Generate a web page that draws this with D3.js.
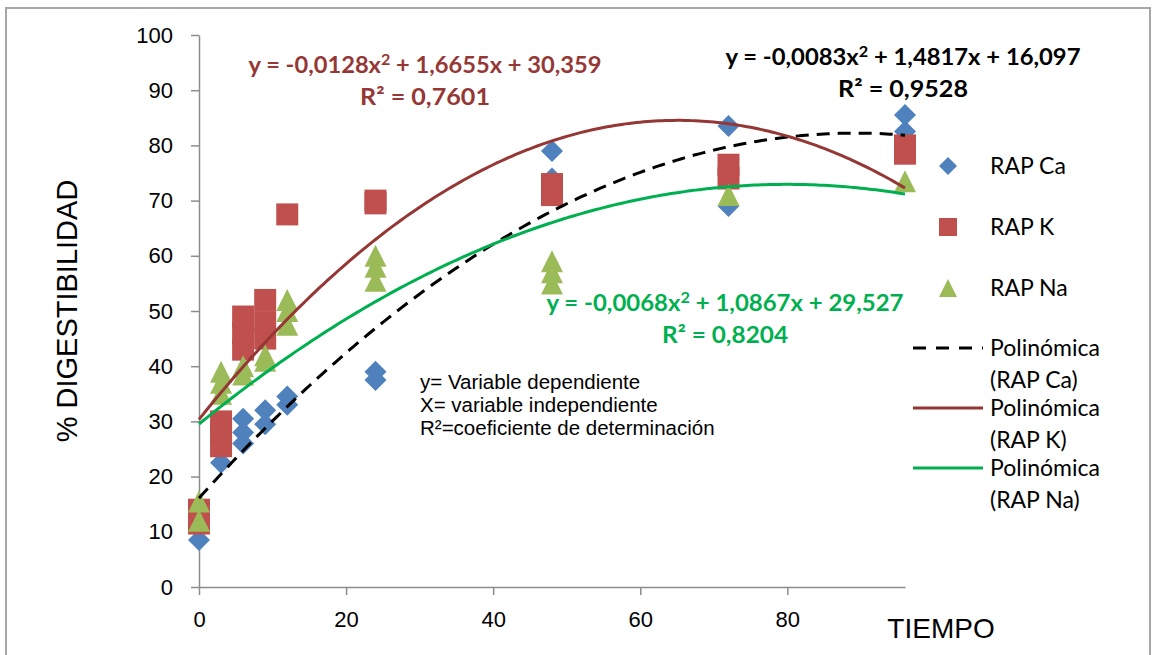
<!DOCTYPE html>
<html>
<head>
<meta charset="utf-8">
<script src="https://cdn.jsdelivr.net/npm/d3@7"></script>
<style>
  body { margin: 0; background: #fff; }
  svg { display: block; }
</style>
</head>
<body>
<div id="chart"></div>
<script>
// Time points (x) and digestibility readings (y) per series
var caPoints = [
  [0, 8.5], [0, 13], [3, 22.5], [3, 27], [6, 26], [6, 28], [6, 30.5],
  [9, 29.5], [9, 32], [12, 33], [12, 34.5], [24, 37.5], [24, 39],
  [48, 74], [48, 79], [72, 69], [72, 76], [72, 83.5], [96, 82.5], [96, 85.5]
]
var kPoints = [
  [0, 11.5], [0, 14], [3, 25.5], [3, 28], [3, 30], [6, 43], [6, 46], [6, 49],
  [9, 45], [9, 48], [9, 52], [12, 67.5], [24, 69.5], [24, 70],
  [48, 71], [48, 73], [72, 74], [72, 76.5], [96, 78.5], [96, 80]
]
var naPoints = [
  [0, 12], [0, 15.5], [3, 35], [3, 37], [3, 39], [6, 38.5], [6, 40],
  [9, 41], [9, 42], [12, 47.5], [12, 50], [12, 52], [24, 55.5], [24, 58], [24, 60],
  [48, 55], [48, 57], [48, 59], [72, 71], [96, 73.5]
]

// Trendline coefficients [a, b, c] for y = a x^2 + b x + c
var caFit = [-0.0083, 1.4817, 16.097]
var kFit = [-0.0128, 1.6655, 30.359]
var naFit = [-0.0068, 1.0867, 29.527]

var xTicks = [0, 20, 40, 60, 80]
var yTicks = [0, 10, 20, 30, 40, 50, 60, 70, 80, 90, 100]

var width = 1152, height = 655

var svg = d3.select("#chart")
  .append("svg")
  .attr("width", width)
  .attr("height", height)

// outer frame
svg.append("rect")
  .attr("x", 6).attr("y", 8)
  .attr("width", 1144).attr("height", 660)
  .attr("fill", "none")
  .attr("stroke", "#a6a6a6")
  .attr("stroke-width", 2)

var x = d3.scaleLinear().domain([0, 96]).range([199, 905])
var y = d3.scaleLinear().domain([0, 100]).range([587, 35])

// ---- axes ----
var axisColor = "#8c8c8c"

var yAxis = svg.append("g")
  .attr("transform", "translate(" + x(0) + ",0)")
  .call(d3.axisLeft(y).tickValues(yTicks).tickSize(8).tickPadding(18).tickSizeOuter(0))
yAxis.select(".domain").attr("stroke", axisColor).attr("stroke-width", 1.5)
yAxis.selectAll(".tick line").attr("stroke", axisColor).attr("stroke-width", 1.5)
yAxis.selectAll(".tick text")
  .attr("font-family", "Liberation Sans, Arial, sans-serif")
  .attr("font-size", "22px")
  .attr("fill", "#000")

var xAxis = svg.append("g")
  .attr("transform", "translate(0," + y(0) + ")")
  .call(d3.axisBottom(x).tickValues(xTicks).tickSize(8).tickPadding(16).tickSizeOuter(0))
xAxis.select(".domain").attr("stroke", axisColor).attr("stroke-width", 1.5)
xAxis.selectAll(".tick line").attr("stroke", axisColor).attr("stroke-width", 1.5)
xAxis.selectAll(".tick text")
  .attr("font-family", "Liberation Sans, Arial, sans-serif")
  .attr("font-size", "22px")
  .attr("fill", "#000")

// axis titles
svg.append("text")
  .attr("transform", "translate(77,311) rotate(-90)")
  .attr("text-anchor", "middle")
  .attr("font-family", "Liberation Sans, Arial, sans-serif")
  .attr("font-size", "29px")
  .text("% DIGESTIBILIDAD")

svg.append("text")
  .attr("x", 941).attr("y", 638)
  .attr("text-anchor", "middle")
  .attr("font-family", "Liberation Sans, Arial, sans-serif")
  .attr("font-size", "28px")
  .text("TIEMPO")

// ---- markers ----
function diamond(s) { return "M0," + (-s) + "L" + s + ",0L0," + s + "L" + (-s) + ",0Z" }
function square(s) { return "M" + (-s) + "," + (-s) + "h" + (2 * s) + "v" + (2 * s) + "h" + (-2 * s) + "Z" }
function triangle(s) { return "M0," + (-s) + "L" + s + "," + s + "L" + (-s) + "," + s + "Z" }

var series = [
  { name: "RAP Ca", data: caPoints, fit: caFit, shape: diamond, color: "#4f81bd", line: "#000000", dash: "13,8" },
  { name: "RAP K", data: kPoints, fit: kFit, shape: square, color: "#c0504d", line: "#953735", dash: null },
  { name: "RAP Na", data: naPoints, fit: naFit, shape: triangle, color: "#9bbb59", line: "#00b050", dash: null }
]

series.forEach(function(s) {
  svg.append("g")
    .selectAll("path")
    .data(s.data)
    .enter()
    .append("path")
    .attr("d", s.shape(11))
    .attr("transform", function(d) { return "translate(" + x(d[0]) + "," + y(d[1]) + ")" })
    .attr("fill", s.color)
})

// ---- trendlines ----
var xs = d3.range(0, 96.01, 0.5)
var line = d3.line()
  .x(function(d) { return x(d[0]) })
  .y(function(d) { return y(d[1]) })

series.forEach(function(s) {
  var pts = xs.map(function(v) { return [v, s.fit[0] * v * v + s.fit[1] * v + s.fit[2]] })
  svg.append("path")
    .datum(pts)
    .attr("d", line)
    .attr("fill", "none")
    .attr("stroke", s.line)
    .attr("stroke-width", 3)
    .attr("stroke-dasharray", s.dash)
})

// ---- equation labels ----
function eqLabel(cx, cy, color, coef, r2, len, rlen) {
  var t = svg.append("text")
    .attr("x", cx).attr("y", cy)
    .attr("text-anchor", "middle")
    .attr("font-family", "Lato, sans-serif")
    .attr("font-weight", "bold")
    .attr("font-size", "22px")
    .attr("fill", color)
    .attr("textLength", len)
    .attr("lengthAdjust", "spacingAndGlyphs")
  t.append("tspan").text("y = " + coef[0] + "x")
  t.append("tspan").attr("dy", -8).attr("font-size", "15px").text("2")
  t.append("tspan").attr("dy", 8).text(" + " + coef[1] + "x + " + coef[2])
  svg.append("text")
    .attr("x", cx).attr("y", cy + 32)
    .attr("text-anchor", "middle")
    .attr("font-family", "Lato, sans-serif")
    .attr("font-weight", "bold")
    .attr("font-size", "23px")
    .attr("fill", color)
    .attr("textLength", rlen)
    .attr("lengthAdjust", "spacingAndGlyphs")
    .text("R² = " + r2)
}
eqLabel(425, 73, "#953735", ["-0,0128", "1,6655", "30,359"], "0,7601", 353, 130)
eqLabel(903, 65, "#000000", ["-0,0083", "1,4817", "16,097"], "0,9528", 355, 130)
eqLabel(725, 311, "#00b050", ["-0,0068", "1,0867", "29,527"], "0,8204", 357, 126)

// ---- note ----
var notes = ["y= Variable dependiente", "X= variable independiente", "R²=coeficiente de determinación"]
svg.append("g")
  .selectAll("text")
  .data(notes)
  .enter()
  .append("text")
  .attr("x", 420)
  .attr("y", function(d, i) { return 389 + i * 23 })
  .attr("font-family", "Liberation Sans, Arial, sans-serif")
  .attr("font-size", "20.5px")
  .text(function(d) { return d })

// ---- legend ----
var legend = svg.append("g")
  .attr("font-family", "Lato, sans-serif")
  .attr("font-size", "23px")
  .attr("fill", "#000")

series.forEach(function(s, i) {
  var ly = 166 + i * 61
  legend.append("path")
    .attr("d", s.shape(9))
    .attr("transform", "translate(948," + ly + ")")
    .attr("fill", s.color)
  legend.append("text")
    .attr("x", 990).attr("y", ly + 8)
    .text(s.name)
})

series.forEach(function(s, i) {
  var ly = 348 + i * 60
  legend.append("line")
    .attr("x1", 913).attr("x2", 983)
    .attr("y1", ly).attr("y2", ly)
    .attr("stroke", s.line)
    .attr("stroke-width", 3)
    .attr("stroke-dasharray", s.dash ? "13,10" : null)
  legend.append("text")
    .attr("x", 990).attr("y", ly + 8)
    .text("Polinómica")
  legend.append("text")
    .attr("x", 990).attr("y", ly + 40)
    .text("(" + s.name + ")")
})
</script>
</body>
</html>
